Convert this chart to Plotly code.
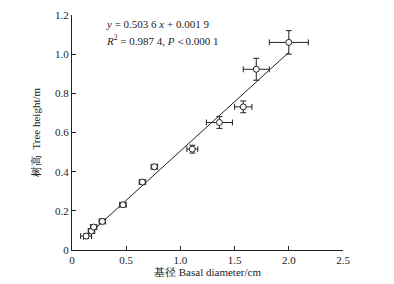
import plotly.graph_objects as go

# Data
basal_diameter = [0.13, 0.18, 0.20, 0.28, 0.47, 0.65, 0.76, 1.11, 1.36, 1.58, 1.70, 2.00]
basal_err = [0.05, 0.03, 0.03, 0.03, 0.03, 0.03, 0.03, 0.05, 0.12, 0.08, 0.12, 0.18]
tree_height = [0.071, 0.097, 0.117, 0.146, 0.231, 0.347, 0.425, 0.515, 0.651, 0.731, 0.923, 1.06]
height_err = [0.012, 0.012, 0.012, 0.012, 0.01, 0.012, 0.012, 0.02, 0.03, 0.03, 0.056, 0.06]

slope = 0.5036
intercept = 0.0019
fit_x = [0.10, 2.00]
fit_y = [slope * v + intercept for v in fit_x]

x_ticks = [0, 0.5, 1.0, 1.5, 2.0, 2.5]
x_tick_labels = ["0", "0.5", "1.0", "1.5", "2.0", "2.5"]
y_ticks = [0, 0.2, 0.4, 0.6, 0.8, 1.0, 1.2]
y_tick_labels = ["0", "0.2", "0.4", "0.6", "0.8", "1.0", "1.2"]

FONT = "Liberation Serif"

fig = go.Figure()
fig.add_trace(go.Scatter(
    x=fit_x, y=fit_y, mode="lines",
    line=dict(color="#222222", width=1), showlegend=False, hoverinfo="skip"))
fig.add_trace(go.Scatter(
    x=basal_diameter, y=tree_height, mode="markers",
    marker=dict(symbol="circle", size=6, color="white",
                line=dict(color="#222222", width=1)),
    error_x=dict(type="data", array=basal_err, color="#222222", thickness=1, width=3),
    error_y=dict(type="data", array=height_err, color="#222222", thickness=1, width=3),
    showlegend=False))

fig.add_annotation(x=0, y=1, xref="paper", yref="paper", xanchor="left", yanchor="middle",
                   xshift=32, yshift=-9, showarrow=False, align="left",
                   text="<i>y</i> = 0.503 6 <i>x</i> + 0.001 9",
                   font=dict(family=FONT, size=11, color="#222222"))
fig.add_annotation(x=0, y=1, xref="paper", yref="paper", xanchor="left", yanchor="middle",
                   xshift=32, yshift=-25, showarrow=False, align="left",
                   text="<i>R</i><sup>2</sup> = 0.987 4, <i>P</i>＜0.000 1",
                   font=dict(family=FONT, size=11, color="#222222"))

axis_common = dict(showline=True, linecolor="#222222", linewidth=1, ticks="inside",
                   ticklen=4, tickcolor="#222222", showgrid=False, zeroline=False,
                   tickfont=dict(family=FONT, size=11, color="#222222"),
                   mirror=False, automargin=False)

# The page adds an 8 px body margin, so the figure is sized to fit the window
fig.update_layout(
    width=386, height=276,
    margin=dict(l=64, r=51, t=7, b=34),
    paper_bgcolor="white", plot_bgcolor="white",
    font=dict(family=FONT, size=11, color="#222222"),
    xaxis=dict(range=[0, 2.5], tickvals=x_ticks, ticktext=x_tick_labels,
               title=dict(text="基径 Basal diameter/cm", standoff=3,
                          font=dict(family=FONT, size=11)), **axis_common),
    yaxis=dict(range=[0, 1.2], tickvals=y_ticks, ticktext=y_tick_labels,
               title=dict(text="树高  Tree height/m", standoff=12,
                          font=dict(family=FONT, size=11)), **axis_common),
)

fig.write_html("out.html")
